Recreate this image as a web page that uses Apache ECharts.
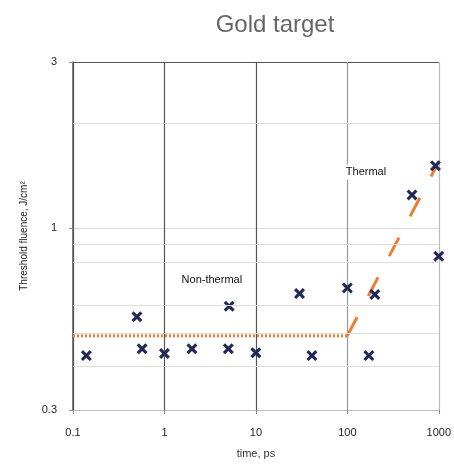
<!DOCTYPE html>
<html>
<head>
<meta charset="utf-8">
<script src="https://cdn.jsdelivr.net/npm/echarts@6/dist/echarts.min.js"></script>
<style>
  html, body { margin: 0; padding: 0; background: #fff; }
  #chart { width: 454px; height: 464px; }
</style>
</head>
<body>
<div id="chart"></div>
<script>
// measured points
const timePs = [0.14, 0.5, 0.57, 1, 2, 5.1, 5, 10, 30, 41, 100, 172, 200, 510, 920, 1000]
const fluence = [0.43, 0.556, 0.45, 0.436, 0.45, 0.596, 0.45, 0.438, 0.648, 0.43, 0.673, 0.43, 0.644, 1.245, 1.51, 0.83]

// model lines
const nonThermalT = [0.1, 100]
const nonThermalF = [0.49, 0.49]
const thermalT = [100, 1000]
const thermalF = [0.49, 1.55]

// extra horizontal grid values
const minorGridY = [2, 0.9, 0.8, 0.6, 0.5, 0.4]
const xTickLabels = ['0.1', '1', '10', '100', '1000']
const yTickLabels = ['0.3', '1', '3']

const regionNames = ['Non-thermal', 'Thermal']
const regionT = [3.3, 160]
const regionF = [0.71, 1.45]

const zip = (a, b) => a.map((v, i) => [v, b[i]])
const xMark = 'path://M2,0 L5,3 L8,0 L10,2 L7,5 L10,8 L8,10 L5,7 L2,10 L0,8 L3,5 L0,2 Z'
const labelFont = 'Liberation Sans, Arial, sans-serif'

const chart = echarts.init(document.getElementById('chart'))
chart.setOption({
  animation: false,
  title: {
    text: 'Gold target',
    left: 270,
    top: 8,
    textAlign: 'center',
    textStyle: { color: '#666', fontSize: 24, fontWeight: 'normal', fontFamily: labelFont }
  },
  grid: { left: 73, right: 14, top: 62, bottom: 53 },
  xAxis: {
    type: 'log',
    min: 0.1,
    max: 1000,
    name: 'time, ps',
    nameLocation: 'middle',
    nameGap: 38,
    nameTextStyle: { color: '#333', fontSize: 11, fontFamily: labelFont },
    axisLine: { lineStyle: { color: '#bbb' } },
    axisTick: { show: true, length: 4, inside: false, lineStyle: { color: '#888' } },
    axisLabel: {
      color: '#222', fontSize: 11, margin: 17, fontFamily: labelFont,
      formatter: v => {
        const idx = Math.round(Math.log10(v)) + 1
        return xTickLabels[idx] || ''
      }
    },
    splitLine: { show: true, lineStyle: { color: ['#555', '#555', '#555', '#999', '#bbb'], width: 1.2 } }
  },
  yAxis: {
    type: 'log',
    min: 0.3,
    max: 3,
    name: 'Threshold fluence, J/cm\u00b2',
    nameLocation: 'middle',
    nameGap: 44,
    nameTextStyle: { color: '#222', fontSize: 10, fontFamily: labelFont },
    axisLine: { show: true, lineStyle: { color: '#555', width: 1.5 } },
    axisTick: { show: true, length: 4, lineStyle: { color: '#888' } },
    axisLabel: {
      color: '#222', fontSize: 11, margin: 16, fontFamily: labelFont,
      formatter: v => {
        const s = String(+v.toPrecision(3))
        return yTickLabels.includes(s) ? s : ''
      }
    },
    splitLine: { show: true, lineStyle: { color: ['#ddd', '#ddd', '#555'], width: 1.2 } }
  },
  series: [
    {
      // light horizontal grid
      type: 'line',
      data: [],
      silent: true,
      markLine: {
        silent: true,
        symbol: 'none',
        label: { show: false },
        lineStyle: { color: '#ddd', type: 'solid', width: 1 },
        data: minorGridY.map(v => ({ yAxis: v }))
      }
    },
    {
      name: 'non-thermal',
      type: 'line',
      data: zip(nonThermalT, nonThermalF),
      showSymbol: false,
      lineStyle: { color: '#f07d2d', width: 3, type: [2, 2], cap: 'butt' },
      z: 3
    },
    {
      name: 'thermal',
      type: 'line',
      data: zip(thermalT, thermalF),
      showSymbol: false,
      lineStyle: { color: '#f07d2d', width: 3, type: [21, 24], cap: 'butt' },
      z: 3
    },
    {
      name: 'measured',
      type: 'scatter',
      data: zip(timePs, fluence),
      symbol: xMark,
      symbolSize: 11,
      itemStyle: { color: '#23285a', opacity: 1 },
      z: 4
    },
    {
      name: 'regions',
      type: 'scatter',
      symbolSize: 0,
      data: regionNames.map((n, i) => ({ name: n, value: [regionT[i], regionF[i]] })),
      itemStyle: { opacity: 1 },
      label: {
        show: true,
        position: 'inside',
        formatter: p => p.name,
        color: '#111',
        fontSize: 11,
        fontFamily: labelFont,
        backgroundColor: '#fff',
        padding: [2, 3]
      },
      z: 5
    }
  ]
})
</script>
</body>
</html>
